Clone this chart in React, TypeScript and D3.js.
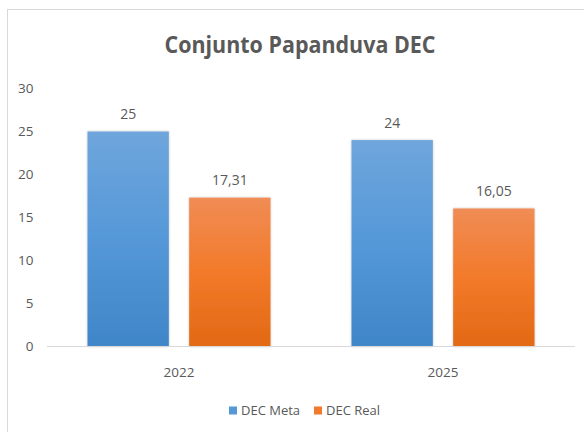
import React from "react";
import * as d3 from "d3";

const categories = ["2022", "2025"];
const seriesNames = ["DEC Meta", "DEC Real"];
const decMeta = [25, 24];
const decReal = [17.31, 16.05];
const yTicks = [0, 5, 10, 15, 20, 25, 30];
const title = "Conjunto Papanduva DEC";

const W = 584;
const H = 432;
const FONT = "'Open Sans', 'Noto Sans', sans-serif";
const TXT = "#595959";

const gradients = [
  { id: "gBlue", stops: ["#6fa6dc", "#5598d8", "#3f86c8"] },
  { id: "gOrange", stops: ["#f08c55", "#f27a2a", "#e26914"] },
];

export default function App() {
  const y = d3.scaleLinear().domain([0, 30]).range([346.5, 88.5]);
  const x0 = d3.scaleBand<string>().domain(categories).range([47, 575]).padding(0);
  const gw = x0.bandwidth();
  const x1 = d3
    .scaleBand<string>()
    .domain(seriesNames)
    .range([(gw - 183) / 2, (gw + 183) / 2])
    .paddingInner(0.2);
  const values = [decMeta, decReal];
  const fmt = (v: number) => String(v).replace(".", ",");

  return (
    <svg
      width={W}
      height={H}
      style={{ position: "absolute", left: 0, top: 0, background: "#fff" }}
      fontFamily={FONT}
    >
      <defs>
        {gradients.map((g) => (
          <linearGradient key={g.id} id={g.id} x1="0" y1="0" x2="0" y2="1">
            <stop offset="0%" stopColor={g.stops[0]} />
            <stop offset="50%" stopColor={g.stops[1]} />
            <stop offset="100%" stopColor={g.stops[2]} />
          </linearGradient>
        ))}
        <filter id="sh" x="-10%" y="-10%" width="120%" height="120%">
          <feDropShadow dx="0" dy="0" stdDeviation="1" floodColor="#000" floodOpacity="0.25" />
        </filter>
      </defs>
      <rect x={0} y={0} width={W} height={H} fill="#fff" />
      <rect x={7.5} y={9.5} width={W} height={H} fill="#fff" stroke="#d9d9d9" strokeWidth={1} />

      <text
        x={300}
        y={53}
        textAnchor="middle"
        fontSize={24}
        fontWeight="bold"
        fill={TXT}
        textLength={271}
        lengthAdjust="spacingAndGlyphs"
      >
        {title}
      </text>

      {yTicks.map((t) => (
        <text key={t} x={33.5} y={y(t) + 4.7} textAnchor="end" fontSize={13.5} fill={TXT}>
          {t}
        </text>
      ))}

      {categories.map((c, ci) => (
        <g key={c} transform={`translate(${x0(c)},0)`}>
          {seriesNames.map((s, si) => {
            const v = values[si][ci];
            const bx = x1(s)!;
            return (
              <g key={s}>
                <rect
                  x={bx}
                  y={y(v)}
                  width={x1.bandwidth()}
                  height={y(0) - y(v)}
                  fill={`url(#${gradients[si].id})`}
                  filter="url(#sh)"
                />
                <text
                  x={bx + x1.bandwidth() / 2}
                  y={y(v) - 12.5}
                  textAnchor="middle"
                  fontSize={14}
                  fill={TXT}
                >
                  {fmt(v)}
                </text>
              </g>
            );
          })}
          <text x={gw / 2} y={376.5} textAnchor="middle" fontSize={13.5} fill={TXT}>
            {c}
          </text>
        </g>
      ))}

      <line x1={47} x2={575} y1={y(0)} y2={y(0)} stroke="#d9d9d9" strokeWidth={1} />

      {seriesNames.map((s, si) => {
        const lx = [229, 314][si];
        return (
          <g key={s}>
            <rect x={lx} y={406.5} width={8} height={8} fill={gradients[si].stops[1]} />
            <text x={lx + 12} y={415} fontSize={13} fill={TXT}>
              {s}
            </text>
          </g>
        );
      })}
    </svg>
  );
}
